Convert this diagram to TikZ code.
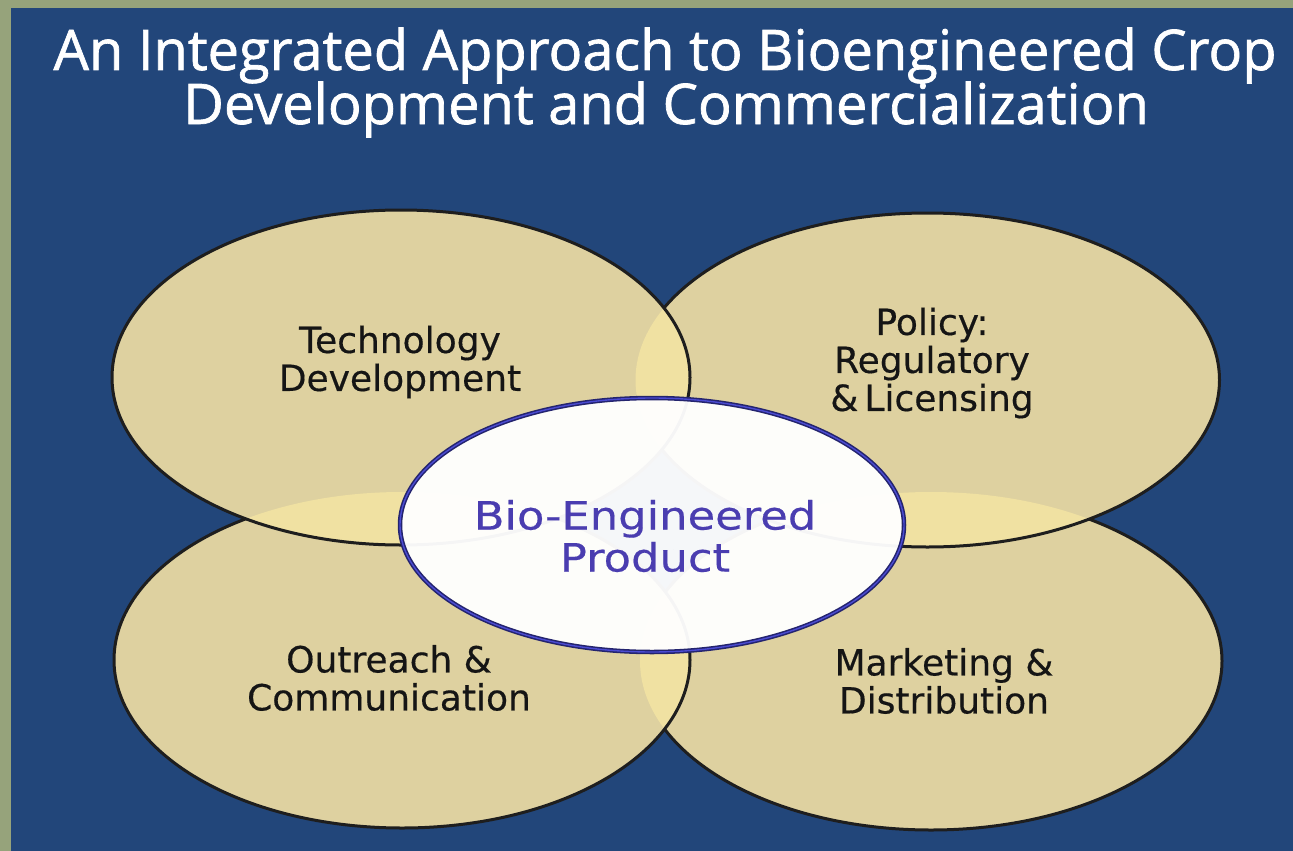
\documentclass[tikz,border=0pt]{standalone}
\usepackage{fontspec}
\setmainfont{DejaVu Sans}
\newfontfamily\lblfont[FakeBold=0.4]{DejaVu Sans}
\newfontfamily\titlefont[FakeBold=1.2]{Open Sans}
\definecolor{bgblue}{HTML}{22467A}
\definecolor{framegreen}{HTML}{96A37B}
\definecolor{tanfill}{HTML}{DED1A0}
\definecolor{lighttan}{HTML}{F0E1A2}
\definecolor{edgecol}{HTML}{1E1E1E}
\definecolor{prodtxt}{HTML}{4A3DB0}
\definecolor{rimcol}{HTML}{24246E}
\definecolor{rimblue}{HTML}{4B4BD2}
\definecolor{labeltxt}{HTML}{151515}
\tikzset{
  petal/.style={draw=edgecol, line width=3pt},
  lbl/.style={text=labeltxt, align=center, inner sep=0pt, font=\lblfont\fontsize{36}{38}\selectfont},
  ttl/.style={text=white, inner sep=0pt, anchor=base, font=\titlefont\fontsize{56}{58}\selectfont},
}
\begin{document}
\begin{tikzpicture}[x=1pt,y=-1pt]
\fill[framegreen] (0,0) rectangle (1293,851);
\fill[bgblue] (11,8) rectangle (1293,851);
\useasboundingbox (0,0) rectangle (1293,851);
\def\eBR{(931,661) ellipse [x radius=291,y radius=169]}
\def\eBL{(402,660) ellipse [x radius=288,y radius=168]}
\def\eTR{(927.5,380) ellipse [x radius=292,y radius=167]}
\def\eTL{(401,377.5) ellipse [x radius=289,y radius=167.5]}
\def\eC{(652,525) ellipse [x radius=252,y radius=127]}
% bottom right
\fill[tanfill] \eBR;
\draw[petal] \eBR;
% bottom left
\fill[tanfill] \eBL;
\begin{scope}\clip \eBL; \fill[lighttan] \eBR; \end{scope}
\draw[petal] \eBL;
% top right
\fill[tanfill] \eTR;
\begin{scope}\clip \eTR; \fill[lighttan] \eBR; \fill[lighttan] \eBL; \end{scope}
\draw[petal] \eTR;
% top left
\fill[tanfill] \eTL;
\begin{scope}\clip \eTL; \fill[lighttan] \eBR; \fill[lighttan] \eBL; \fill[lighttan] \eTR; \end{scope}
\draw[petal] \eTL;
% centre
\fill[white, fill opacity=0.955] \eC;
\draw[rimcol, line width=4.5pt] \eC;
\draw[rimblue, line width=1.4pt] \eC;
% title
\node[ttl] (t1) at (665,70) {An Integrated Approach to Bioengineered Crop};
\node[ttl] (t2) at (666,124) {Development and Commercialization};
% labels
\node[lbl] (tech) at (400,362) {Technology\\Development};
\node[lbl] (policy) at (932,363) {Policy:\\Regulatory\\\&\,Licensing};
\node[lbl] (outreach) at (389,678) {Outreach \&\\Communication};
\node[lbl] (market) at (944,681) {Marketing \&\\Distribution};
\node[lbl, text=prodtxt, font=\lblfont\fontsize{39}{42}\selectfont, xscale=1.15, transform shape] (prod) at (645,536) {Bio-Engineered\\Product};
\end{tikzpicture}
\end{document}
